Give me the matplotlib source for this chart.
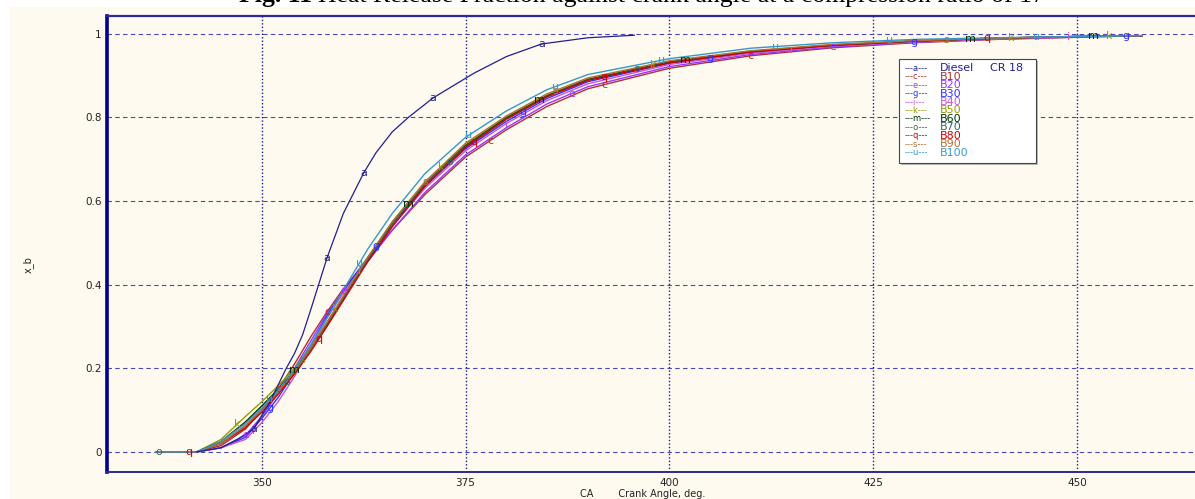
import matplotlib
matplotlib.use("Agg")
import numpy as np
import matplotlib.pyplot as plt
from matplotlib.patches import Rectangle

# ---- data ----
ca_diesel = [342, 345, 347, 349, 351, 353, 354, 355, 356, 358, 360, 362.5, 364,
             366, 368, 371, 376, 380, 384.3, 390, 395.7]
xb_diesel = [0, 0.01, 0.03, 0.055, 0.12, 0.2, 0.235, 0.28, 0.34, 0.464, 0.57,
             0.667, 0.715, 0.765, 0.80, 0.846, 0.905, 0.945, 0.975, 0.99, 0.996]
diesel_letter_ca = [349, 358, 362.5, 371, 384.3]

ca_bio = [337, 342, 345, 348, 350, 352, 354, 356, 358, 360, 363, 366, 370,
          375, 380, 385, 390, 400, 410, 420, 430, 440, 450, 458]

xb_b10 = [0, 0, 0.015, 0.055, 0.1, 0.15, 0.21, 0.275, 0.335, 0.39, 0.46, 0.53, 0.615,
          0.705, 0.77, 0.826, 0.868, 0.917, 0.947, 0.966, 0.978, 0.986, 0.991, 0.995]
xb_b20 = [0, 0, 0.01, 0.04, 0.085, 0.14, 0.2, 0.265, 0.33, 0.385, 0.455, 0.53, 0.62,
          0.71, 0.775, 0.832, 0.873, 0.921, 0.95, 0.968, 0.979, 0.987, 0.992, 0.995]
xb_b30 = [0, 0, 0.01, 0.035, 0.08, 0.13, 0.19, 0.255, 0.325, 0.385, 0.465, 0.545, 0.635,
          0.725, 0.79, 0.845, 0.885, 0.929, 0.955, 0.971, 0.981, 0.988, 0.993, 0.995]
xb_b40 = [0, 0, 0.01, 0.03, 0.07, 0.12, 0.18, 0.25, 0.32, 0.38, 0.46, 0.54, 0.63,
          0.72, 0.785, 0.84, 0.88, 0.926, 0.953, 0.97, 0.98, 0.987, 0.992, 0.995]
xb_b50 = [0, 0, 0.03, 0.085, 0.12, 0.158, 0.2, 0.25, 0.31, 0.372, 0.465, 0.55, 0.645,
          0.735, 0.8, 0.853, 0.891, 0.933, 0.958, 0.973, 0.983, 0.989, 0.993, 0.995]
xb_b60 = [0, 0, 0.025, 0.072, 0.11, 0.15, 0.195, 0.247, 0.305, 0.367, 0.46, 0.545, 0.64,
          0.732, 0.798, 0.851, 0.89, 0.932, 0.957, 0.972, 0.982, 0.989, 0.993, 0.995]
xb_b70 = [0, 0, 0.02, 0.063, 0.1, 0.143, 0.19, 0.245, 0.305, 0.367, 0.46, 0.545, 0.64,
          0.73, 0.796, 0.85, 0.889, 0.931, 0.957, 0.972, 0.982, 0.989, 0.993, 0.995]
xb_b80 = [0, 0, 0.02, 0.058, 0.095, 0.138, 0.186, 0.24, 0.3, 0.362, 0.455, 0.538, 0.635,
          0.728, 0.795, 0.849, 0.888, 0.93, 0.956, 0.972, 0.982, 0.989, 0.993, 0.995]
xb_b90 = [0, 0, 0.02, 0.063, 0.1, 0.143, 0.192, 0.248, 0.31, 0.372, 0.465, 0.55, 0.645,
          0.738, 0.803, 0.856, 0.894, 0.935, 0.959, 0.974, 0.983, 0.989, 0.993, 0.995]
xb_b100 = [0, 0, 0.025, 0.068, 0.105, 0.148, 0.197, 0.256, 0.32, 0.387, 0.485, 0.57, 0.665,
           0.752, 0.815, 0.866, 0.902, 0.94, 0.965, 0.978, 0.986, 0.99, 0.993, 0.995]

bio_names = ["B10", "B20", "B30", "B40", "B50", "B60", "B70", "B80", "B90", "B100"]
bio_letters = ["c", "e", "g", "i", "k", "m", "o", "q", "s", "u"]
bio_values = [xb_b10, xb_b20, xb_b30, xb_b40, xb_b50, xb_b60, xb_b70, xb_b80,
              xb_b90, xb_b100]
bio_colors = ["#b03030", "#9933ff", "#3030ff", "#cc55cc", "#999900", "#003300",
              "#306868", "#cc0000", "#b07030", "#3399cc"]
# crank angles where each curve carries its letter marker
bio_letter_ca = [
    [352, 358, 378, 392, 410],
    [348, 360, 388, 420],
    [351, 364, 382, 405, 430, 456],
    [349, 362, 380, 415, 449],
    [347, 359, 372, 398, 442, 454],
    [354, 368, 384, 402, 437, 452],
    [337.3, 353, 373, 396],
    [341.1, 357, 376, 392, 439],
    [355, 370, 386, 434],
    [351, 362, 375.4, 386, 399, 413, 427, 445],
]

xticks = [350, 375, 400, 425, 450]
yticks = [0, 0.2, 0.4, 0.6, 0.8, 1]
ytick_labels = ["0", "0.2", "0.4", "0.6", "0.8", "1"]

cream = "#fefaf0"
navy = "#1a1a8c"

W, H = 1195, 499
fig = plt.figure(figsize=(W / 100, H / 100), dpi=100, facecolor="white")
# cream panel behind the plot
fig.patches.append(Rectangle((9 / W, 0), 1 - 9 / W, 1 - 7 / H,
                             transform=fig.transFigure, facecolor=cream,
                             edgecolor="none", zorder=-10))

ax = fig.add_axes([107 / W, 1 - 472 / H, 1 - 107 / W, (472 - 16) / H])
ax.set_zorder(1)
ax.set_facecolor(cream)
ax.set_xlim(331, 464.5)
ax.set_ylim(-0.048, 1.042)

# grid
for x in xticks:
    ax.axvline(x, color=navy, lw=1.0, ls=(0, (1, 1.5)), zorder=1)
for y in yticks:
    ax.axhline(y, color="#4848b8", lw=0.8, ls=(0, (4, 3)), zorder=1)

# biodiesel curves
for name, letter, vals, col, lca in zip(bio_names, bio_letters, bio_values,
                                        bio_colors, bio_letter_ca):
    ax.plot(ca_bio, vals, color=col, lw=1.0, zorder=2)
    for xx in lca:
        ax.text(xx, np.interp(xx, ca_bio, vals), letter, color=col, fontsize=8,
                ha="center", va="center", zorder=3)

# diesel curve
ax.plot(ca_diesel, xb_diesel, color="#202090", lw=0.9, zorder=2)
for xx in diesel_letter_ca:
    ax.text(xx, np.interp(xx, ca_diesel, xb_diesel), "a", color="#202090",
            fontsize=8, ha="center", va="center", zorder=3)

ax.set_xticks(xticks)
ax.set_xticklabels([str(t) for t in xticks])
ax.set_yticks(yticks)
ax.set_yticklabels(ytick_labels)
ax.tick_params(length=0, labelsize=7.5, colors="#222222", pad=4)
ax.spines["right"].set_visible(False)
ax.spines["left"].set_color("#00008b")
ax.spines["left"].set_linewidth(2.6)
ax.spines["top"].set_color("#2a2a9a")
ax.spines["top"].set_linewidth(1.6)
ax.spines["bottom"].set_color("#2a2a9a")
ax.spines["bottom"].set_linewidth(1.4)

# axis labels
fig.text(28 / W, 1 - 265 / H, "x_b", rotation=90, fontsize=7, ha="center",
         va="center", color="#222222")
fig.text(580 / W, 1 - 494 / H, "CA        Crank Angle, deg.", fontsize=7,
         ha="left", va="center", color="#222222")

# title (partly cut off at the top like the original)
serif = ["Liberation Serif", "DejaVu Serif"]
t1 = fig.text(0, 1 - 2 / H, "Fig. 11 ", fontsize=18.5, fontweight="bold",
              family=serif, ha="left", va="baseline")
t2 = fig.text(0, 1 - 2 / H,
              "Heat Release Fraction against crank angle at a compression ratio of 17",
              fontsize=18.5, family=serif, ha="left", va="baseline")
fig.canvas.draw()
w1 = t1.get_window_extent().width
w2 = t2.get_window_extent().width
x_start = 642 - (w1 + w2) / 2
t1.set_x(x_start / W)
t2.set_x((x_start + w1) / W)

# legend box
lx0, ly0, lx1, ly1 = 899, 59, 1036, 163
fig.patches.append(Rectangle((lx0 / W + 2 / W, 1 - (ly1 + 2) / H),
                             (lx1 - lx0) / W, (ly1 - ly0) / H,
                             transform=fig.transFigure, facecolor="#bbbbbb",
                             edgecolor="none", zorder=4))
fig.patches.append(Rectangle((lx0 / W, 1 - ly1 / H), (lx1 - lx0) / W,
                             (ly1 - ly0) / H, transform=fig.transFigure,
                             facecolor="white", edgecolor="#444444", lw=0.8,
                             zorder=5))
leg_names = ["Diesel"] + bio_names
leg_letters = ["a"] + bio_letters
leg_colors = ["#202090"] + bio_colors
for k, (name, letter, col) in enumerate(zip(leg_names, leg_letters, leg_colors)):
    yy = 1 - (68.3 + k * 8.43) / H
    fig.text(905 / W, yy, "---" + letter + "---", color=col, fontsize=6,
             ha="left", va="center", zorder=6)
    fig.text(940 / W, yy, name, color=col, fontsize=8, ha="left", va="center",
             zorder=6)
fig.text(990 / W, 1 - 68.3 / H, "CR 18", color="#202090", fontsize=8,
         ha="left", va="center", zorder=6)

fig.savefig("out.png", dpi=100, facecolor="white")
